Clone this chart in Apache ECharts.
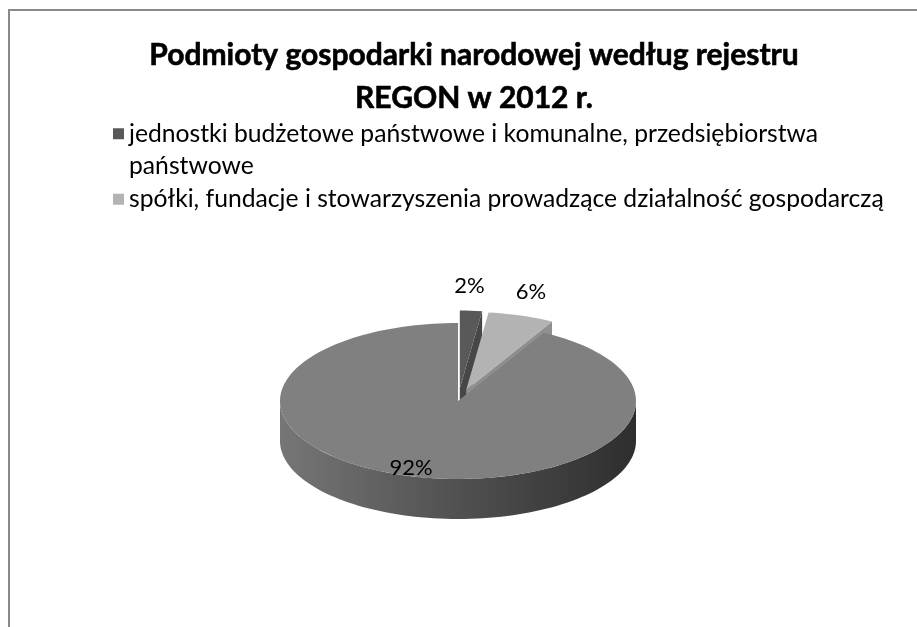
<!DOCTYPE html>
<html>
<head>
<meta charset="utf-8">
<script src="https://cdn.jsdelivr.net/npm/echarts@6/dist/echarts.min.js"></script>
<style>
  html, body { margin:0; padding:0; background:#fff; }
  #chart { width:917px; height:627px; }
</style>
</head>
<body>
<div id="chart"></div>
<script>
// ====== data ======
const titleLines = ['Podmioty gospodarki narodowej według rejestru', 'REGON w 2012 r.'];
const categories = [
  'jednostki budżetowe państwowe i komunalne, przedsiębiorstwa państwowe',
  'spółki, fundacje i stowarzyszenia prowadzące działalność gospodarczą',
  'osoby fizyczne prowadzące działalność gospodarczą'
];
const shares = [2, 6, 92];
const shareLabels = ['2%', '6%', '92%'];
const legendNames = [categories[0], categories[1]];

// ====== look ======
const topColors  = ['#595959', '#b3b3b3', '#808080'];
const wallColors = ['#474747', '#8f8f8f', '#5a5a5a'];
const explode    = [0.16, 0.15, 0];     // outward shift, fraction of radius
const labelR     = [1.32, 1.32, 0.88];  // label radius, fraction of radius
const labelDx    = [-5, -8, -8];
const PIE = { cx:458, cy:401, rx:178, ry:78, depth:40 };
const FONT = 'Lato, "Open Sans", sans-serif';

const total = shares.reduce((a,b)=>a+b,0);
const starts = shares.map((v,i)=> shares.slice(0,i).reduce((a,b)=>a+b,0) / total * 360);

const rad = (d) => d * Math.PI / 180;
// angle measured clockwise from 12 o'clock
function pt(a, r, ox, oy, dz){
  return [PIE.cx + ox + r*PIE.rx*Math.sin(rad(a)), PIE.cy + oy - r*PIE.ry*Math.cos(rad(a)) + (dz||0)];
}
function arc(a1, a2, ox, oy, dz){
  const pts = [];
  const n = Math.max(2, Math.ceil((a2-a1)/2));
  for(let k=0;k<=n;k++) pts.push(pt(a1 + (a2-a1)*k/n, 1, ox, oy, dz));
  return pts;
}

function renderSlice(i){
  return function(params, api){
    const value = api.value(0);
    const a1 = starts[i], a2 = a1 + value/total*360;
    const mid = (a1+a2)/2;
    const ox = explode[i]*PIE.rx*Math.sin(rad(mid));
    const oy = -explode[i]*PIE.ry*Math.cos(rad(mid));
    const D = PIE.depth;
    const children = [];
    const c  = pt(0,0,ox,oy,0), cb = pt(0,0,ox,oy,D);

    // radial walls seen from the front
    const walls = [];
    if(Math.sin(rad(a1)) < -0.01) walls.push(a1);
    if(Math.sin(rad(a2)) > 0.01) walls.push(a2);
    walls.forEach(a=>{
      children.push({ type:'polygon', shape:{ points:[c, pt(a,1,ox,oy,0), pt(a,1,ox,oy,D), cb] },
        style:{ fill: wallColors[i] } });
    });

    // outer side, front half only
    const s1 = Math.max(a1, 90), s2 = Math.min(a2, 270);
    if(s2 > s1){
      const topArc = arc(s1, s2, ox, oy, 0);
      const botArc = arc(s1, s2, ox, oy, D).reverse();
      const fill = i === 2
        ? new echarts.graphic.LinearGradient(0,0,1,0,[
            {offset:0, color:'#767676'}, {offset:0.45, color:'#545454'}, {offset:1, color:'#2e2e2e'}])
        : wallColors[i];
      children.push({ type:'polygon', shape:{ points: topArc.concat(botArc) }, style:{ fill } });
    }

    // top face
    children.push({ type:'polygon', shape:{ points: [c].concat(arc(a1, a2, ox, oy, 0)) },
      style:{ fill: topColors[i] } });

    // percentage label
    const lp = pt(mid, labelR[i], ox, oy, 0);
    children.push({ type:'text', x: lp[0] + labelDx[i], y: lp[1],
      style:{ text: shareLabels[i], fill:'#000', font: '22px ' + FONT, align:'center', verticalAlign:'middle' } });

    return { type:'group', children };
  };
}

const chart = echarts.init(document.getElementById('chart'));
chart.setOption({
  backgroundColor:'#fff',
  animation:false,
  graphic:[{ type:'rect', shape:{ x:9, y:10, width:1000, height:1000 },
    style:{ fill:'none', stroke:'#8a8a8a', lineWidth:2 }, silent:true }],
  title:{
    text: titleLines.join('\n'),
    left: 469, top: 29, textAlign:'center',
    textStyle:{ fontFamily: FONT, fontWeight:'bold', fontSize:30, lineHeight:43, color:'#000',
      textBorderColor:'#000', textBorderWidth:0.6 }
  },
  legend:[
    // blank first line keeps the marker level with the first text line
    { data:[legendNames[0]], left:113, top:85, padding:0, orient:'vertical', icon:'rect',
      itemWidth:11, itemHeight:11,
      formatter: () => '\njednostki budżetowe państwowe i komunalne, przedsiębiorstwa\npaństwowe',
      textStyle:{ fontFamily: FONT, fontSize:24.7, lineHeight:32.5, color:'#000' } },
    { data:[legendNames[1]], left:113, top:183, padding:0, orient:'vertical', icon:'rect',
      itemWidth:11, itemHeight:11,
      textStyle:{ fontFamily: FONT, fontSize:24.7, lineHeight:32.5, color:'#000' } }
  ],
  series: categories.map((name,i)=>({
    type:'custom', name, coordinateSystem:'none', z: 2 + (i===2 ? 5 : i),
    itemStyle:{ color: topColors[i] },
    renderItem: renderSlice(i),
    data:[[shares[i]]]
  }))
});
</script>
</body>
</html>
